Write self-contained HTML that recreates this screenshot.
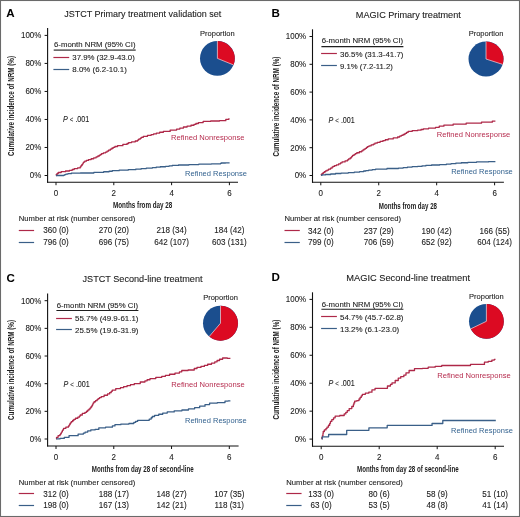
<!DOCTYPE html>
<html><head><meta charset="utf-8"><style>
html,body{margin:0;padding:0;background:#fff;}
body{width:520px;height:517px;overflow:hidden;position:relative;}
svg{position:absolute;left:0;top:0;font-family:"Liberation Sans", sans-serif;will-change:transform;}
</style></head><body>
<svg width="520" height="517" viewBox="0 0 520 517">
<rect x="0" y="0" width="520" height="517" fill="#fff"/>
<g>
<text x="6.3" y="16.6" font-size="11.6" text-anchor="start" fill="#000" font-weight="bold" font-style="normal">A</text>
<text x="64.2" y="16.7" font-size="9.8" text-anchor="start" fill="#1c1c1c" font-weight="normal" font-style="normal" textLength="157" lengthAdjust="spacingAndGlyphs" stroke="#1c1c1c" stroke-width="0.1">JSTCT Primary treatment validation set</text>
<line x1="47.6" y1="28" x2="47.6" y2="182.7" stroke="#111" stroke-width="1.1"/>
<line x1="47.1" y1="182.2" x2="238" y2="182.2" stroke="#111" stroke-width="1.1"/>
<line x1="44.6" y1="175.5" x2="47.6" y2="175.5" stroke="#111" stroke-width="1"/>
<text x="41.300000000000004" y="178.35" font-size="8.59" text-anchor="end" fill="#1c1c1c" font-weight="normal" font-style="normal" textLength="11.49" lengthAdjust="spacingAndGlyphs" stroke="#1c1c1c" stroke-width="0.1">0%</text>
<line x1="44.6" y1="147.48" x2="47.6" y2="147.48" stroke="#111" stroke-width="1"/>
<text x="41.300000000000004" y="150.32999999999998" font-size="8.59" text-anchor="end" fill="#1c1c1c" font-weight="normal" font-style="normal" textLength="15.91" lengthAdjust="spacingAndGlyphs" stroke="#1c1c1c" stroke-width="0.1">20%</text>
<line x1="44.6" y1="119.46000000000001" x2="47.6" y2="119.46000000000001" stroke="#111" stroke-width="1"/>
<text x="41.300000000000004" y="122.31" font-size="8.59" text-anchor="end" fill="#1c1c1c" font-weight="normal" font-style="normal" textLength="15.91" lengthAdjust="spacingAndGlyphs" stroke="#1c1c1c" stroke-width="0.1">40%</text>
<line x1="44.6" y1="91.44000000000001" x2="47.6" y2="91.44000000000001" stroke="#111" stroke-width="1"/>
<text x="41.300000000000004" y="94.29" font-size="8.59" text-anchor="end" fill="#1c1c1c" font-weight="normal" font-style="normal" textLength="15.91" lengthAdjust="spacingAndGlyphs" stroke="#1c1c1c" stroke-width="0.1">60%</text>
<line x1="44.6" y1="63.42" x2="47.6" y2="63.42" stroke="#111" stroke-width="1"/>
<text x="41.300000000000004" y="66.27" font-size="8.59" text-anchor="end" fill="#1c1c1c" font-weight="normal" font-style="normal" textLength="15.91" lengthAdjust="spacingAndGlyphs" stroke="#1c1c1c" stroke-width="0.1">80%</text>
<line x1="44.6" y1="35.400000000000006" x2="47.6" y2="35.400000000000006" stroke="#111" stroke-width="1"/>
<text x="41.300000000000004" y="38.25000000000001" font-size="8.59" text-anchor="end" fill="#1c1c1c" font-weight="normal" font-style="normal" textLength="20.33" lengthAdjust="spacingAndGlyphs" stroke="#1c1c1c" stroke-width="0.1">100%</text>
<line x1="56.0" y1="182.2" x2="56.0" y2="185.2" stroke="#111" stroke-width="1"/>
<text x="56.0" y="195.8" font-size="8.48" text-anchor="middle" fill="#1c1c1c" font-weight="normal" font-style="normal" textLength="4.45" lengthAdjust="spacingAndGlyphs" stroke="#1c1c1c" stroke-width="0.1">0</text>
<line x1="113.80000000000001" y1="182.2" x2="113.80000000000001" y2="185.2" stroke="#111" stroke-width="1"/>
<text x="113.80000000000001" y="195.8" font-size="8.48" text-anchor="middle" fill="#1c1c1c" font-weight="normal" font-style="normal" textLength="4.45" lengthAdjust="spacingAndGlyphs" stroke="#1c1c1c" stroke-width="0.1">2</text>
<line x1="171.60000000000002" y1="182.2" x2="171.60000000000002" y2="185.2" stroke="#111" stroke-width="1"/>
<text x="171.60000000000002" y="195.8" font-size="8.48" text-anchor="middle" fill="#1c1c1c" font-weight="normal" font-style="normal" textLength="4.45" lengthAdjust="spacingAndGlyphs" stroke="#1c1c1c" stroke-width="0.1">4</text>
<line x1="229.4" y1="182.2" x2="229.4" y2="185.2" stroke="#111" stroke-width="1"/>
<text x="229.4" y="195.8" font-size="8.48" text-anchor="middle" fill="#1c1c1c" font-weight="normal" font-style="normal" textLength="4.45" lengthAdjust="spacingAndGlyphs" stroke="#1c1c1c" stroke-width="0.1">6</text>
<text x="113" y="207.79999999999998" font-size="8.9" text-anchor="start" fill="#1c1c1c" font-weight="bold" font-style="normal" textLength="59.3" lengthAdjust="spacingAndGlyphs">Months from day 28</text>
<text x="0" y="0" font-size="9.5" font-weight="bold" text-anchor="middle" fill="#1c1c1c" textLength="100" lengthAdjust="spacingAndGlyphs" transform="translate(13.9,106.0) rotate(-90)">Cumulative incidence of NRM (%)</text>
<text x="54" y="46.6" font-size="8.1" text-anchor="start" fill="#1c1c1c" font-weight="normal" font-style="normal" textLength="81.5" lengthAdjust="spacingAndGlyphs" stroke="#1c1c1c" stroke-width="0.1">6-month NRM (95% CI)</text>
<line x1="53.7" y1="50.1" x2="135.7" y2="50.1" stroke="#6e6e6e" stroke-width="1.8"/>
<line x1="53.4" y1="57.5" x2="69.2" y2="57.5" stroke="#ae2848" stroke-width="1.2"/>
<line x1="53.4" y1="69.5" x2="69.2" y2="69.5" stroke="#3a5f88" stroke-width="1.2"/>
<text x="72.3" y="60.4" font-size="8.1" text-anchor="start" fill="#1c1c1c" font-weight="normal" font-style="normal" textLength="62.5" lengthAdjust="spacingAndGlyphs" stroke="#1c1c1c" stroke-width="0.1">37.9% (32.9-43.0)</text>
<text x="72.3" y="72.30000000000001" font-size="8.1" text-anchor="start" fill="#1c1c1c" font-weight="normal" font-style="normal" textLength="54.5" lengthAdjust="spacingAndGlyphs" stroke="#1c1c1c" stroke-width="0.1">8.0% (6.2-10.1)</text>
<text x="217.4" y="35.8" font-size="8.0" text-anchor="middle" fill="#1c1c1c" font-weight="normal" font-style="normal" textLength="34.7" lengthAdjust="spacingAndGlyphs" stroke="#1c1c1c" stroke-width="0.1">Proportion</text>
<circle cx="217.4" cy="58.4" r="17.4" fill="#1b4e8e"/>
<path d="M217.4,58.4 L217.4,41.0 A17.4,17.4 0 0 1 233.52,64.95 Z" fill="#dc0a22"/>
<line x1="217.4" y1="58.4" x2="217.4" y2="41.0" stroke="#f4d8dc" stroke-width="0.7"/>
<line x1="217.4" y1="58.4" x2="233.52" y2="64.95" stroke="#f4d8dc" stroke-width="0.7"/>
<text x="63.1" y="121.8" font-size="8.5" fill="#1c1c1c" stroke="#1c1c1c" stroke-width="0.1" textLength="26.2" lengthAdjust="spacingAndGlyphs"><tspan font-style="italic">P</tspan> <tspan font-size="7.2">&lt;</tspan> .001</text>
<polyline points="56.00,175.50 56.27,175.50 56.27,174.50 57.13,174.50 57.13,173.50 58.25,173.50 58.25,172.50 58.80,172.50 61.20,172.50 61.20,171.70 63.60,171.70 65.57,171.70 65.57,171.00 69.42,171.00 69.42,170.30 71.30,170.30 72.22,170.30 72.22,169.50 74.17,169.50 74.17,168.70 75.20,168.70 77.60,168.70 77.60,167.90 80.00,167.90 80.18,167.90 80.18,166.93 80.83,166.93 80.83,165.97 81.61,165.97 81.61,165.00 82.37,165.00 82.37,164.03 82.97,164.03 82.97,163.07 83.47,163.07 83.47,162.10 83.80,162.10 84.75,162.10 84.75,161.20 85.70,161.20 86.39,161.20 86.39,160.38 88.46,160.38 88.46,159.57 91.17,159.57 91.17,158.75 92.50,158.75 93.71,158.75 93.71,157.78 96.11,157.78 96.11,156.80 97.30,156.80 97.90,156.80 97.90,156.00 99.33,156.00 99.33,155.20 100.67,155.20 100.67,154.40 101.59,154.40 101.59,153.60 102.00,153.60 103.40,153.60 103.40,152.85 105.60,152.85 105.60,152.10 106.40,152.10 107.05,152.10 107.05,151.14 108.54,151.14 108.54,150.18 110.28,150.18 110.28,149.22 111.83,149.22 111.83,148.26 113.14,148.26 113.14,147.30 113.80,147.30 114.93,147.30 114.93,146.50 117.58,146.50 117.58,145.70 119.10,145.70 122.85,145.70 122.85,144.40 126.60,144.40 127.05,144.40 127.05,143.50 128.65,143.50 128.65,142.60 129.80,142.60 131.58,142.60 131.58,141.80 135.28,141.80 135.28,141.00 137.20,141.00 137.55,141.00 137.55,140.10 138.68,140.10 138.68,139.20 140.16,139.20 140.16,138.30 141.18,138.30 141.18,137.40 141.50,137.40 143.22,137.40 143.22,136.35 147.47,136.35 147.47,135.30 150.00,135.30 151.14,135.30 151.14,134.60 153.64,134.60 153.64,133.90 155.00,133.90 156.36,133.90 156.36,133.07 159.68,133.07 159.68,132.23 163.37,132.23 163.37,131.40 165.10,131.40 170.15,131.40 170.15,130.10 175.20,130.10 176.62,130.10 176.62,129.07 179.86,129.07 179.86,128.03 183.44,128.03 183.44,127.00 185.20,127.00 187.07,127.00 187.07,126.13 190.98,126.13 190.98,125.27 194.00,125.27 194.00,124.40 195.00,124.40 195.91,124.40 195.91,123.50 198.41,123.50 198.41,122.60 200.00,122.60 203.15,122.60 203.15,121.30 206.30,121.30 210.70,121.30 210.70,121.00 215.10,121.00 219.50,121.00 219.50,120.70 223.90,120.70 225.80,120.70 225.80,119.40 227.70,119.40 228.65,119.40 228.65,118.80 229.60,118.80" fill="none" stroke="#ae2848" stroke-width="1.3" stroke-linejoin="round"/>
<polyline points="56.00,175.50 63.60,175.50 63.88,175.50 63.88,175.03 64.77,175.03 64.77,174.57 65.94,174.57 65.94,174.10 66.50,174.10 67.95,174.10 67.95,173.65 71.30,173.65 71.30,173.20 73.20,173.20 80.45,173.20 80.45,173.00 87.70,173.00 93.85,173.00 93.85,172.30 100.00,172.30 103.69,172.30 103.69,171.77 109.08,171.77 109.08,171.23 112.29,171.23 112.29,170.70 113.80,170.70 119.13,170.70 119.13,170.20 128.18,170.20 128.18,169.70 131.90,169.70 135.73,169.70 135.73,169.15 141.08,169.15 141.08,168.60 142.60,168.60 146.30,168.60 146.30,168.10 150.00,168.10 152.38,168.10 152.38,167.65 156.18,167.65 156.18,167.20 157.60,167.20 160.27,167.20 160.27,166.77 165.54,166.77 165.54,166.33 169.12,166.33 169.12,165.90 170.10,165.90 172.21,165.90 172.21,165.45 178.51,165.45 178.51,165.00 182.70,165.00 188.87,165.00 188.87,164.55 198.82,164.55 198.82,164.10 202.60,164.10 211.40,164.10 211.40,163.80 220.20,163.80 220.58,163.80 220.58,163.40 221.18,163.40 221.18,163.00 221.40,163.00 225.50,163.00 225.50,162.80 229.60,162.80" fill="none" stroke="#3a5f88" stroke-width="1.3" stroke-linejoin="round"/>
<text x="171" y="140.1" font-size="8.1" text-anchor="start" fill="#b62c4e" font-weight="normal" font-style="normal" textLength="73.5" lengthAdjust="spacingAndGlyphs" stroke-width="0">Refined Nonresponse</text>
<text x="185" y="175.6" font-size="8.1" text-anchor="start" fill="#33628f" font-weight="normal" font-style="normal" textLength="62" lengthAdjust="spacingAndGlyphs" stroke-width="0">Refined Response</text>
<text x="18.8" y="221.2" font-size="8.0" text-anchor="start" fill="#1c1c1c" font-weight="normal" font-style="normal" textLength="116.5" lengthAdjust="spacingAndGlyphs" stroke="#1c1c1c" stroke-width="0.1">Number at risk (number censored)</text>
<line x1="18.8" y1="230.5" x2="34.1" y2="230.5" stroke="#ae2848" stroke-width="1.2"/>
<line x1="18.8" y1="242.5" x2="34.1" y2="242.5" stroke="#3a5f88" stroke-width="1.2"/>
<text x="56.0" y="233.4" font-size="8.67" text-anchor="middle" fill="#1c1c1c" font-weight="normal" font-style="normal" textLength="25.66" lengthAdjust="spacingAndGlyphs" stroke="#1c1c1c" stroke-width="0.1">360 (0)</text>
<text x="56.0" y="245.0" font-size="8.67" text-anchor="middle" fill="#1c1c1c" font-weight="normal" font-style="normal" textLength="25.66" lengthAdjust="spacingAndGlyphs" stroke="#1c1c1c" stroke-width="0.1">796 (0)</text>
<text x="113.80000000000001" y="233.4" font-size="8.67" text-anchor="middle" fill="#1c1c1c" font-weight="normal" font-style="normal" textLength="30.17" lengthAdjust="spacingAndGlyphs" stroke="#1c1c1c" stroke-width="0.1">270 (20)</text>
<text x="113.80000000000001" y="245.0" font-size="8.67" text-anchor="middle" fill="#1c1c1c" font-weight="normal" font-style="normal" textLength="30.17" lengthAdjust="spacingAndGlyphs" stroke="#1c1c1c" stroke-width="0.1">696 (75)</text>
<text x="171.60000000000002" y="233.4" font-size="8.67" text-anchor="middle" fill="#1c1c1c" font-weight="normal" font-style="normal" textLength="30.17" lengthAdjust="spacingAndGlyphs" stroke="#1c1c1c" stroke-width="0.1">218 (34)</text>
<text x="171.60000000000002" y="245.0" font-size="8.67" text-anchor="middle" fill="#1c1c1c" font-weight="normal" font-style="normal" textLength="34.67" lengthAdjust="spacingAndGlyphs" stroke="#1c1c1c" stroke-width="0.1">642 (107)</text>
<text x="229.4" y="233.4" font-size="8.67" text-anchor="middle" fill="#1c1c1c" font-weight="normal" font-style="normal" textLength="30.17" lengthAdjust="spacingAndGlyphs" stroke="#1c1c1c" stroke-width="0.1">184 (42)</text>
<text x="229.4" y="245.0" font-size="8.67" text-anchor="middle" fill="#1c1c1c" font-weight="normal" font-style="normal" textLength="34.67" lengthAdjust="spacingAndGlyphs" stroke="#1c1c1c" stroke-width="0.1">603 (131)</text>
<text x="271.6" y="17.0" font-size="11.6" text-anchor="start" fill="#000" font-weight="bold" font-style="normal">B</text>
<text x="355.8" y="17.8" font-size="9.8" text-anchor="start" fill="#1c1c1c" font-weight="normal" font-style="normal" textLength="105" lengthAdjust="spacingAndGlyphs" stroke="#1c1c1c" stroke-width="0.1">MAGIC Primary treatment</text>
<line x1="312.5" y1="29.3" x2="312.5" y2="182.8" stroke="#111" stroke-width="1.1"/>
<line x1="312.0" y1="182.3" x2="503.9" y2="182.3" stroke="#111" stroke-width="1.1"/>
<line x1="309.5" y1="175.5" x2="312.5" y2="175.5" stroke="#111" stroke-width="1"/>
<text x="306.2" y="178.35" font-size="8.59" text-anchor="end" fill="#1c1c1c" font-weight="normal" font-style="normal" textLength="11.49" lengthAdjust="spacingAndGlyphs" stroke="#1c1c1c" stroke-width="0.1">0%</text>
<line x1="309.5" y1="147.7" x2="312.5" y2="147.7" stroke="#111" stroke-width="1"/>
<text x="306.2" y="150.54999999999998" font-size="8.59" text-anchor="end" fill="#1c1c1c" font-weight="normal" font-style="normal" textLength="15.91" lengthAdjust="spacingAndGlyphs" stroke="#1c1c1c" stroke-width="0.1">20%</text>
<line x1="309.5" y1="119.9" x2="312.5" y2="119.9" stroke="#111" stroke-width="1"/>
<text x="306.2" y="122.75" font-size="8.59" text-anchor="end" fill="#1c1c1c" font-weight="normal" font-style="normal" textLength="15.91" lengthAdjust="spacingAndGlyphs" stroke="#1c1c1c" stroke-width="0.1">40%</text>
<line x1="309.5" y1="92.1" x2="312.5" y2="92.1" stroke="#111" stroke-width="1"/>
<text x="306.2" y="94.94999999999999" font-size="8.59" text-anchor="end" fill="#1c1c1c" font-weight="normal" font-style="normal" textLength="15.91" lengthAdjust="spacingAndGlyphs" stroke="#1c1c1c" stroke-width="0.1">60%</text>
<line x1="309.5" y1="64.3" x2="312.5" y2="64.3" stroke="#111" stroke-width="1"/>
<text x="306.2" y="67.14999999999999" font-size="8.59" text-anchor="end" fill="#1c1c1c" font-weight="normal" font-style="normal" textLength="15.91" lengthAdjust="spacingAndGlyphs" stroke="#1c1c1c" stroke-width="0.1">80%</text>
<line x1="309.5" y1="36.5" x2="312.5" y2="36.5" stroke="#111" stroke-width="1"/>
<text x="306.2" y="39.35" font-size="8.59" text-anchor="end" fill="#1c1c1c" font-weight="normal" font-style="normal" textLength="20.33" lengthAdjust="spacingAndGlyphs" stroke="#1c1c1c" stroke-width="0.1">100%</text>
<line x1="320.8" y1="182.3" x2="320.8" y2="185.3" stroke="#111" stroke-width="1"/>
<text x="320.8" y="195.7" font-size="8.48" text-anchor="middle" fill="#1c1c1c" font-weight="normal" font-style="normal" textLength="4.45" lengthAdjust="spacingAndGlyphs" stroke="#1c1c1c" stroke-width="0.1">0</text>
<line x1="378.73333333333335" y1="182.3" x2="378.73333333333335" y2="185.3" stroke="#111" stroke-width="1"/>
<text x="378.73333333333335" y="195.7" font-size="8.48" text-anchor="middle" fill="#1c1c1c" font-weight="normal" font-style="normal" textLength="4.45" lengthAdjust="spacingAndGlyphs" stroke="#1c1c1c" stroke-width="0.1">2</text>
<line x1="436.6666666666667" y1="182.3" x2="436.6666666666667" y2="185.3" stroke="#111" stroke-width="1"/>
<text x="436.6666666666667" y="195.7" font-size="8.48" text-anchor="middle" fill="#1c1c1c" font-weight="normal" font-style="normal" textLength="4.45" lengthAdjust="spacingAndGlyphs" stroke="#1c1c1c" stroke-width="0.1">4</text>
<line x1="494.6" y1="182.3" x2="494.6" y2="185.3" stroke="#111" stroke-width="1"/>
<text x="494.6" y="195.7" font-size="8.48" text-anchor="middle" fill="#1c1c1c" font-weight="normal" font-style="normal" textLength="4.45" lengthAdjust="spacingAndGlyphs" stroke="#1c1c1c" stroke-width="0.1">6</text>
<text x="378.75" y="208.5" font-size="8.9" text-anchor="start" fill="#1c1c1c" font-weight="bold" font-style="normal" textLength="58.3" lengthAdjust="spacingAndGlyphs">Months from day 28</text>
<text x="0" y="0" font-size="9.5" font-weight="bold" text-anchor="middle" fill="#1c1c1c" textLength="100" lengthAdjust="spacingAndGlyphs" transform="translate(279.3,106.55) rotate(-90)">Cumulative incidence of NRM (%)</text>
<text x="321.7" y="43.3" font-size="8.1" text-anchor="start" fill="#1c1c1c" font-weight="normal" font-style="normal" textLength="81.5" lengthAdjust="spacingAndGlyphs" stroke="#1c1c1c" stroke-width="0.1">6-month NRM (95% CI)</text>
<line x1="321.4" y1="46.6" x2="403.4" y2="46.6" stroke="#1e1e1e" stroke-width="1.1"/>
<line x1="321.09999999999997" y1="53.5" x2="336.9" y2="53.5" stroke="#ae2848" stroke-width="1.2"/>
<line x1="321.09999999999997" y1="65.5" x2="336.9" y2="65.5" stroke="#3a5f88" stroke-width="1.2"/>
<text x="340" y="56.8" font-size="8.1" text-anchor="start" fill="#1c1c1c" font-weight="normal" font-style="normal" textLength="63.5" lengthAdjust="spacingAndGlyphs" stroke="#1c1c1c" stroke-width="0.1">36.5% (31.3-41.7)</text>
<text x="340" y="68.5" font-size="8.1" text-anchor="start" fill="#1c1c1c" font-weight="normal" font-style="normal" textLength="52.9" lengthAdjust="spacingAndGlyphs" stroke="#1c1c1c" stroke-width="0.1">9.1% (7.2-11.2)</text>
<text x="486" y="36.3" font-size="8.0" text-anchor="middle" fill="#1c1c1c" font-weight="normal" font-style="normal" textLength="34.7" lengthAdjust="spacingAndGlyphs" stroke="#1c1c1c" stroke-width="0.1">Proportion</text>
<circle cx="486" cy="59" r="17.5" fill="#1b4e8e"/>
<path d="M486,59 L486,41.5 A17.5,17.5 0 0 1 502.65,64.38 Z" fill="#dc0a22"/>
<line x1="486" y1="59" x2="486" y2="41.5" stroke="#f4d8dc" stroke-width="0.7"/>
<line x1="486" y1="59" x2="502.65" y2="64.38" stroke="#f4d8dc" stroke-width="0.7"/>
<text x="328.6" y="122.8" font-size="8.5" fill="#1c1c1c" stroke="#1c1c1c" stroke-width="0.1" textLength="26.2" lengthAdjust="spacingAndGlyphs"><tspan font-style="italic">P</tspan> <tspan font-size="7.2">&lt;</tspan> .001</text>
<polyline points="321.00,175.30 321.27,175.30 321.27,174.40 322.13,174.40 322.13,173.50 323.25,173.50 323.25,172.60 323.80,172.60 324.35,172.60 324.35,171.77 325.61,171.77 325.61,170.93 327.01,170.93 327.01,170.10 327.70,170.10 328.61,170.10 328.61,169.13 330.54,169.13 330.54,168.17 332.03,168.17 332.03,167.20 332.50,167.20 332.95,167.20 332.95,166.40 334.55,166.40 334.55,165.60 336.50,165.60 336.50,164.80 337.30,164.80 338.65,164.80 338.65,163.83 340.54,163.83 340.54,162.87 342.09,162.87 342.09,161.90 343.10,161.90 345.05,161.90 345.05,160.90 347.00,160.90 347.40,160.90 347.40,159.93 348.58,159.93 348.58,158.97 350.14,158.97 350.14,158.00 350.90,158.00 351.19,158.00 351.19,157.14 351.76,157.14 351.76,156.28 352.61,156.28 352.61,155.42 353.96,155.42 353.96,154.56 355.22,154.56 355.22,153.70 355.70,153.70 356.82,153.70 356.82,152.73 359.39,152.73 359.39,151.77 361.67,151.77 361.67,150.80 362.50,150.80 362.98,150.80 362.98,149.96 364.09,149.96 364.09,149.12 365.38,149.12 365.38,148.28 366.53,148.28 366.53,147.44 367.51,147.44 367.51,146.60 368.00,146.60 369.00,146.60 369.00,145.80 370.00,145.80 371.17,145.80 371.17,144.92 373.31,144.92 373.31,144.04 374.91,144.04 374.91,143.16 377.18,143.16 377.18,142.28 380.11,142.28 380.11,141.40 381.40,141.40 382.91,141.40 382.91,140.57 385.34,140.57 385.34,139.73 388.22,139.73 388.22,138.90 390.20,138.90 393.22,138.90 393.22,137.95 397.62,137.95 397.62,137.00 399.00,137.00 399.64,137.00 399.64,136.17 401.21,136.17 401.21,135.33 403.07,135.33 403.07,134.50 404.00,134.50 404.97,134.50 404.97,133.47 406.57,133.47 406.57,132.43 408.10,132.43 408.10,131.40 409.00,131.40 412.15,131.40 412.15,130.70 415.30,130.70 417.65,130.70 417.65,130.20 420.00,130.20 421.01,130.20 421.01,129.50 423.31,129.50 423.31,128.80 424.60,128.80 428.58,128.80 428.58,128.05 435.53,128.05 435.53,127.30 438.50,127.30 439.25,127.30 439.25,126.20 440.00,126.20 443.87,126.20 443.87,125.20 453.12,125.20 453.12,124.20 458.50,124.20 466.15,124.20 466.15,123.20 473.80,123.20 481.50,123.20 481.50,122.20 489.20,122.20 492.30,122.20 492.30,121.20 495.40,121.20" fill="none" stroke="#ae2848" stroke-width="1.3" stroke-linejoin="round"/>
<polyline points="321.00,175.30 322.07,175.30 322.07,174.90 325.42,174.90 325.42,174.50 327.70,174.50 330.70,174.50 330.70,174.00 335.50,174.00 335.50,173.50 337.30,173.50 341.01,173.50 341.01,173.05 348.26,173.05 348.26,172.60 351.80,172.60 354.30,172.60 354.30,172.07 359.61,172.07 359.61,171.53 363.71,171.53 363.71,171.00 365.00,171.00 365.82,171.00 365.82,170.53 368.71,170.53 368.71,170.05 372.23,170.05 372.23,169.57 375.64,169.57 375.64,169.10 377.60,169.10 387.00,169.10 387.00,168.50 396.40,168.50 398.46,168.50 398.46,168.03 403.18,168.03 403.18,167.55 407.42,167.55 407.42,167.07 412.15,167.07 412.15,166.60 415.30,166.60 417.65,166.60 417.65,166.40 420.00,166.40 421.95,166.40 421.95,165.93 425.82,165.93 425.82,165.47 431.58,165.47 431.58,165.00 435.40,165.00 439.60,165.00 439.60,164.55 446.37,164.55 446.37,164.10 451.03,164.10 451.03,163.65 455.81,163.65 455.81,163.20 458.50,163.20 461.28,163.20 461.28,162.77 467.85,162.77 467.85,162.33 476.57,162.33 476.57,161.90 481.50,161.90 488.45,161.90 488.45,161.60 495.40,161.60" fill="none" stroke="#3a5f88" stroke-width="1.3" stroke-linejoin="round"/>
<text x="436.7" y="137.1" font-size="8.1" text-anchor="start" fill="#b62c4e" font-weight="normal" font-style="normal" textLength="73.5" lengthAdjust="spacingAndGlyphs" stroke-width="0">Refined Nonresponse</text>
<text x="451.2" y="173.9" font-size="8.1" text-anchor="start" fill="#33628f" font-weight="normal" font-style="normal" textLength="61.6" lengthAdjust="spacingAndGlyphs" stroke-width="0">Refined Response</text>
<text x="284.5" y="221.3" font-size="8.0" text-anchor="start" fill="#1c1c1c" font-weight="normal" font-style="normal" textLength="116.5" lengthAdjust="spacingAndGlyphs" stroke="#1c1c1c" stroke-width="0.1">Number at risk (number censored)</text>
<line x1="284.5" y1="230.5" x2="299.8" y2="230.5" stroke="#ae2848" stroke-width="1.2"/>
<line x1="284.5" y1="242.5" x2="299.8" y2="242.5" stroke="#3a5f88" stroke-width="1.2"/>
<text x="320.8" y="233.5" font-size="8.67" text-anchor="middle" fill="#1c1c1c" font-weight="normal" font-style="normal" textLength="25.66" lengthAdjust="spacingAndGlyphs" stroke="#1c1c1c" stroke-width="0.1">342 (0)</text>
<text x="320.8" y="245.3" font-size="8.67" text-anchor="middle" fill="#1c1c1c" font-weight="normal" font-style="normal" textLength="25.66" lengthAdjust="spacingAndGlyphs" stroke="#1c1c1c" stroke-width="0.1">799 (0)</text>
<text x="378.73333333333335" y="233.5" font-size="8.67" text-anchor="middle" fill="#1c1c1c" font-weight="normal" font-style="normal" textLength="30.17" lengthAdjust="spacingAndGlyphs" stroke="#1c1c1c" stroke-width="0.1">237 (29)</text>
<text x="378.73333333333335" y="245.3" font-size="8.67" text-anchor="middle" fill="#1c1c1c" font-weight="normal" font-style="normal" textLength="30.17" lengthAdjust="spacingAndGlyphs" stroke="#1c1c1c" stroke-width="0.1">706 (59)</text>
<text x="436.6666666666667" y="233.5" font-size="8.67" text-anchor="middle" fill="#1c1c1c" font-weight="normal" font-style="normal" textLength="30.17" lengthAdjust="spacingAndGlyphs" stroke="#1c1c1c" stroke-width="0.1">190 (42)</text>
<text x="436.6666666666667" y="245.3" font-size="8.67" text-anchor="middle" fill="#1c1c1c" font-weight="normal" font-style="normal" textLength="30.17" lengthAdjust="spacingAndGlyphs" stroke="#1c1c1c" stroke-width="0.1">652 (92)</text>
<text x="494.6" y="233.5" font-size="8.67" text-anchor="middle" fill="#1c1c1c" font-weight="normal" font-style="normal" textLength="30.17" lengthAdjust="spacingAndGlyphs" stroke="#1c1c1c" stroke-width="0.1">166 (55)</text>
<text x="494.6" y="245.3" font-size="8.67" text-anchor="middle" fill="#1c1c1c" font-weight="normal" font-style="normal" textLength="34.67" lengthAdjust="spacingAndGlyphs" stroke="#1c1c1c" stroke-width="0.1">604 (124)</text>
<text x="6.5" y="281.8" font-size="11.6" text-anchor="start" fill="#000" font-weight="bold" font-style="normal">C</text>
<text x="82.5" y="282" font-size="9.8" text-anchor="start" fill="#1c1c1c" font-weight="normal" font-style="normal" textLength="120" lengthAdjust="spacingAndGlyphs" stroke="#1c1c1c" stroke-width="0.1">JSTCT Second-line treatment</text>
<line x1="47.6" y1="293.6" x2="47.6" y2="446.5" stroke="#111" stroke-width="1.1"/>
<line x1="47.1" y1="446" x2="238.6" y2="446" stroke="#111" stroke-width="1.1"/>
<line x1="44.6" y1="439.0" x2="47.6" y2="439.0" stroke="#111" stroke-width="1"/>
<text x="41.300000000000004" y="441.85" font-size="8.59" text-anchor="end" fill="#1c1c1c" font-weight="normal" font-style="normal" textLength="11.49" lengthAdjust="spacingAndGlyphs" stroke="#1c1c1c" stroke-width="0.1">0%</text>
<line x1="44.6" y1="411.34" x2="47.6" y2="411.34" stroke="#111" stroke-width="1"/>
<text x="41.300000000000004" y="414.19" font-size="8.59" text-anchor="end" fill="#1c1c1c" font-weight="normal" font-style="normal" textLength="15.91" lengthAdjust="spacingAndGlyphs" stroke="#1c1c1c" stroke-width="0.1">20%</text>
<line x1="44.6" y1="383.68" x2="47.6" y2="383.68" stroke="#111" stroke-width="1"/>
<text x="41.300000000000004" y="386.53000000000003" font-size="8.59" text-anchor="end" fill="#1c1c1c" font-weight="normal" font-style="normal" textLength="15.91" lengthAdjust="spacingAndGlyphs" stroke="#1c1c1c" stroke-width="0.1">40%</text>
<line x1="44.6" y1="356.02" x2="47.6" y2="356.02" stroke="#111" stroke-width="1"/>
<text x="41.300000000000004" y="358.87" font-size="8.59" text-anchor="end" fill="#1c1c1c" font-weight="normal" font-style="normal" textLength="15.91" lengthAdjust="spacingAndGlyphs" stroke="#1c1c1c" stroke-width="0.1">60%</text>
<line x1="44.6" y1="328.36" x2="47.6" y2="328.36" stroke="#111" stroke-width="1"/>
<text x="41.300000000000004" y="331.21000000000004" font-size="8.59" text-anchor="end" fill="#1c1c1c" font-weight="normal" font-style="normal" textLength="15.91" lengthAdjust="spacingAndGlyphs" stroke="#1c1c1c" stroke-width="0.1">80%</text>
<line x1="44.6" y1="300.7" x2="47.6" y2="300.7" stroke="#111" stroke-width="1"/>
<text x="41.300000000000004" y="303.55" font-size="8.59" text-anchor="end" fill="#1c1c1c" font-weight="normal" font-style="normal" textLength="20.33" lengthAdjust="spacingAndGlyphs" stroke="#1c1c1c" stroke-width="0.1">100%</text>
<line x1="56.0" y1="446" x2="56.0" y2="449" stroke="#111" stroke-width="1"/>
<text x="56.0" y="459.5" font-size="8.48" text-anchor="middle" fill="#1c1c1c" font-weight="normal" font-style="normal" textLength="4.45" lengthAdjust="spacingAndGlyphs" stroke="#1c1c1c" stroke-width="0.1">0</text>
<line x1="113.76666666666668" y1="446" x2="113.76666666666668" y2="449" stroke="#111" stroke-width="1"/>
<text x="113.76666666666668" y="459.5" font-size="8.48" text-anchor="middle" fill="#1c1c1c" font-weight="normal" font-style="normal" textLength="4.45" lengthAdjust="spacingAndGlyphs" stroke="#1c1c1c" stroke-width="0.1">2</text>
<line x1="171.53333333333336" y1="446" x2="171.53333333333336" y2="449" stroke="#111" stroke-width="1"/>
<text x="171.53333333333336" y="459.5" font-size="8.48" text-anchor="middle" fill="#1c1c1c" font-weight="normal" font-style="normal" textLength="4.45" lengthAdjust="spacingAndGlyphs" stroke="#1c1c1c" stroke-width="0.1">4</text>
<line x1="229.30000000000004" y1="446" x2="229.30000000000004" y2="449" stroke="#111" stroke-width="1"/>
<text x="229.30000000000004" y="459.5" font-size="8.48" text-anchor="middle" fill="#1c1c1c" font-weight="normal" font-style="normal" textLength="4.45" lengthAdjust="spacingAndGlyphs" stroke="#1c1c1c" stroke-width="0.1">6</text>
<text x="91.75" y="472.1" font-size="8.9" text-anchor="start" fill="#1c1c1c" font-weight="bold" font-style="normal" textLength="102" lengthAdjust="spacingAndGlyphs">Months from day 28 of second-line</text>
<text x="0" y="0" font-size="9.5" font-weight="bold" text-anchor="middle" fill="#1c1c1c" textLength="100" lengthAdjust="spacingAndGlyphs" transform="translate(13.9,369.95000000000005) rotate(-90)">Cumulative incidence of NRM (%)</text>
<text x="56.7" y="307.5" font-size="8.1" text-anchor="start" fill="#1c1c1c" font-weight="normal" font-style="normal" textLength="81.5" lengthAdjust="spacingAndGlyphs" stroke="#1c1c1c" stroke-width="0.1">6-month NRM (95% CI)</text>
<line x1="56.400000000000006" y1="310.5" x2="138.4" y2="310.5" stroke="#1e1e1e" stroke-width="1.1"/>
<line x1="56.1" y1="318.5" x2="71.9" y2="318.5" stroke="#ae2848" stroke-width="1.2"/>
<line x1="56.1" y1="329.5" x2="71.9" y2="329.5" stroke="#3a5f88" stroke-width="1.2"/>
<text x="75" y="320.95" font-size="8.1" text-anchor="start" fill="#1c1c1c" font-weight="normal" font-style="normal" textLength="63.5" lengthAdjust="spacingAndGlyphs" stroke="#1c1c1c" stroke-width="0.1">55.7% (49.9-61.1)</text>
<text x="75" y="332.59999999999997" font-size="8.1" text-anchor="start" fill="#1c1c1c" font-weight="normal" font-style="normal" textLength="63.5" lengthAdjust="spacingAndGlyphs" stroke="#1c1c1c" stroke-width="0.1">25.5% (19.6-31.9)</text>
<text x="220.5" y="300" font-size="8.0" text-anchor="middle" fill="#1c1c1c" font-weight="normal" font-style="normal" textLength="34.7" lengthAdjust="spacingAndGlyphs" stroke="#1c1c1c" stroke-width="0.1">Proportion</text>
<circle cx="220.5" cy="323.2" r="17.5" fill="#1b4e8e"/>
<path d="M220.5,323.2 L220.5,305.7 A17.5,17.5 0 1 1 209.20,336.56 Z" fill="#dc0a22"/>
<line x1="220.5" y1="323.2" x2="220.5" y2="305.7" stroke="#f4d8dc" stroke-width="0.7"/>
<line x1="220.5" y1="323.2" x2="209.20" y2="336.56" stroke="#f4d8dc" stroke-width="0.7"/>
<text x="63.6" y="386.6" font-size="8.5" fill="#1c1c1c" stroke="#1c1c1c" stroke-width="0.1" textLength="26.2" lengthAdjust="spacingAndGlyphs"><tspan font-style="italic">P</tspan> <tspan font-size="7.2">&lt;</tspan> .001</text>
<polyline points="56.30,438.90 56.55,438.90 56.55,437.30 56.80,437.30 58.10,437.30 58.10,435.70 59.40,435.70 59.86,435.70 59.86,434.67 60.60,434.67 60.60,433.63 61.24,433.63 61.24,432.60 61.60,432.60 61.85,432.60 61.85,431.53 62.40,431.53 62.40,430.45 63.05,430.45 63.05,429.38 63.54,429.38 63.54,428.30 63.70,428.30 65.85,428.30 65.85,427.20 68.00,427.20 68.40,427.20 68.40,426.13 69.07,426.13 69.07,425.07 69.72,425.07 69.72,424.00 70.10,424.00 70.41,424.00 70.41,422.82 71.30,422.82 71.30,421.65 72.64,421.65 72.64,420.48 73.85,420.48 73.85,419.30 74.30,419.30 75.49,419.30 75.49,418.23 77.82,418.23 77.82,417.15 79.40,417.15 79.40,416.07 80.27,416.07 80.27,415.00 80.70,415.00 82.30,415.00 82.30,413.40 83.90,413.40 84.94,413.40 84.94,412.33 86.61,412.33 86.61,411.27 87.76,411.27 87.76,410.20 88.94,410.20 88.94,409.13 89.98,409.13 89.98,408.07 90.88,408.07 90.88,407.00 91.40,407.00 91.69,407.00 91.69,405.95 92.29,405.95 92.29,404.90 92.82,404.90 92.82,403.85 93.27,403.85 93.27,402.80 93.50,402.80 94.11,402.80 94.11,401.73 95.54,401.73 95.54,400.67 97.03,400.67 97.03,399.60 97.70,399.60 98.08,399.60 98.08,398.60 99.46,398.60 99.46,397.60 101.22,397.60 101.22,396.60 102.00,396.60 104.12,396.60 104.12,395.25 107.52,395.25 107.52,393.90 108.80,393.90 109.62,393.90 109.62,392.63 111.18,392.63 111.18,391.37 112.26,391.37 112.26,390.10 112.60,390.10 115.75,390.10 115.75,388.60 118.90,388.60 120.48,388.60 120.48,387.63 123.62,387.63 123.62,386.67 127.04,386.67 127.04,385.70 128.90,385.70 130.46,385.70 130.46,384.65 134.26,384.65 134.26,383.60 136.50,383.60 140.25,383.60 140.25,382.00 144.00,382.00 144.93,382.00 144.93,380.87 147.13,380.87 147.13,379.73 150.00,379.73 150.00,378.60 151.60,378.60 155.80,378.60 155.80,377.30 160.00,377.30 161.75,377.30 161.75,376.35 165.40,376.35 165.40,375.40 167.30,375.40 169.56,375.40 169.56,374.25 174.96,374.25 174.96,373.10 178.10,373.10 179.45,373.10 179.45,371.80 181.75,371.80 181.75,370.50 182.70,370.50 188.10,370.50 188.10,370.00 193.50,370.00 194.25,370.00 194.25,368.50 195.00,368.50 197.00,368.50 197.00,367.47 200.95,367.47 200.95,366.43 204.35,366.43 204.35,365.40 205.80,365.40 207.66,365.40 207.66,364.25 211.51,364.25 211.51,363.10 213.50,363.10 214.78,363.10 214.78,361.80 217.08,361.80 217.08,360.50 218.10,360.50 219.55,360.50 219.55,359.25 222.60,359.25 222.60,358.00 224.20,358.00 227.30,358.00 227.30,358.30 230.40,358.30" fill="none" stroke="#ae2848" stroke-width="1.3" stroke-linejoin="round"/>
<polyline points="56.30,438.90 60.00,438.90 60.00,438.40 63.70,438.40 64.25,438.40 64.25,437.30 64.80,437.30 69.05,437.30 69.05,435.70 73.30,435.70 78.10,435.70 78.10,434.10 82.90,434.10 83.40,434.10 83.40,433.10 83.90,433.10 85.09,433.10 85.09,432.03 87.72,432.03 87.72,430.97 90.78,430.97 90.78,429.90 92.40,429.90 95.05,429.90 95.05,429.40 97.70,429.40 98.80,429.40 98.80,427.80 99.90,427.80 105.60,427.80 105.60,427.20 111.30,427.20 112.38,427.20 112.38,425.95 114.93,425.95 114.93,424.70 116.40,424.70 120.80,424.70 120.80,424.10 125.20,424.10 128.95,424.10 128.95,423.50 132.70,423.50 133.83,423.50 133.83,422.43 135.64,422.43 135.64,421.37 137.66,421.37 137.66,420.30 139.00,420.30 147.80,420.30 149.23,420.30 149.23,419.03 151.19,419.03 151.19,417.77 152.27,417.77 152.27,416.50 152.80,416.50 154.57,416.50 154.57,415.37 158.77,415.37 158.77,414.23 162.71,414.23 162.71,413.10 164.20,413.10 167.24,413.10 167.24,411.95 174.19,411.95 174.19,410.80 178.10,410.80 181.95,410.80 181.95,410.00 185.80,410.00 188.47,410.00 188.47,408.85 194.62,408.85 194.62,407.70 198.10,407.70 199.65,407.70 199.65,406.20 201.20,406.20 205.00,406.20 205.00,404.60 208.80,404.60 209.60,404.60 209.60,403.10 210.40,403.10 217.30,403.10 217.30,402.60 224.20,402.60 225.00,402.60 225.00,401.10 225.80,401.10 228.10,401.10 228.10,400.80 230.40,400.80" fill="none" stroke="#3a5f88" stroke-width="1.3" stroke-linejoin="round"/>
<text x="171.3" y="386.8" font-size="8.1" text-anchor="start" fill="#b62c4e" font-weight="normal" font-style="normal" textLength="73.4" lengthAdjust="spacingAndGlyphs" stroke-width="0">Refined Nonresponse</text>
<text x="185" y="422.8" font-size="8.1" text-anchor="start" fill="#33628f" font-weight="normal" font-style="normal" textLength="61.8" lengthAdjust="spacingAndGlyphs" stroke-width="0">Refined Response</text>
<text x="18.75" y="485" font-size="8.0" text-anchor="start" fill="#1c1c1c" font-weight="normal" font-style="normal" textLength="116.5" lengthAdjust="spacingAndGlyphs" stroke="#1c1c1c" stroke-width="0.1">Number at risk (number censored)</text>
<line x1="18.75" y1="493.5" x2="34.05" y2="493.5" stroke="#ae2848" stroke-width="1.2"/>
<line x1="18.75" y1="505.5" x2="34.05" y2="505.5" stroke="#3a5f88" stroke-width="1.2"/>
<text x="56.0" y="496.7" font-size="8.67" text-anchor="middle" fill="#1c1c1c" font-weight="normal" font-style="normal" textLength="25.66" lengthAdjust="spacingAndGlyphs" stroke="#1c1c1c" stroke-width="0.1">312 (0)</text>
<text x="56.0" y="508.4" font-size="8.67" text-anchor="middle" fill="#1c1c1c" font-weight="normal" font-style="normal" textLength="25.66" lengthAdjust="spacingAndGlyphs" stroke="#1c1c1c" stroke-width="0.1">198 (0)</text>
<text x="113.76666666666668" y="496.7" font-size="8.67" text-anchor="middle" fill="#1c1c1c" font-weight="normal" font-style="normal" textLength="30.17" lengthAdjust="spacingAndGlyphs" stroke="#1c1c1c" stroke-width="0.1">188 (17)</text>
<text x="113.76666666666668" y="508.4" font-size="8.67" text-anchor="middle" fill="#1c1c1c" font-weight="normal" font-style="normal" textLength="30.17" lengthAdjust="spacingAndGlyphs" stroke="#1c1c1c" stroke-width="0.1">167 (13)</text>
<text x="171.53333333333336" y="496.7" font-size="8.67" text-anchor="middle" fill="#1c1c1c" font-weight="normal" font-style="normal" textLength="30.17" lengthAdjust="spacingAndGlyphs" stroke="#1c1c1c" stroke-width="0.1">148 (27)</text>
<text x="171.53333333333336" y="508.4" font-size="8.67" text-anchor="middle" fill="#1c1c1c" font-weight="normal" font-style="normal" textLength="30.17" lengthAdjust="spacingAndGlyphs" stroke="#1c1c1c" stroke-width="0.1">142 (21)</text>
<text x="229.30000000000004" y="496.7" font-size="8.67" text-anchor="middle" fill="#1c1c1c" font-weight="normal" font-style="normal" textLength="30.17" lengthAdjust="spacingAndGlyphs" stroke="#1c1c1c" stroke-width="0.1">107 (35)</text>
<text x="229.30000000000004" y="508.4" font-size="8.67" text-anchor="middle" fill="#1c1c1c" font-weight="normal" font-style="normal" textLength="29.57" lengthAdjust="spacingAndGlyphs" stroke="#1c1c1c" stroke-width="0.1">118 (31)</text>
<text x="271.6" y="280.6" font-size="11.6" text-anchor="start" fill="#000" font-weight="bold" font-style="normal">D</text>
<text x="346.25" y="280.8" font-size="9.8" text-anchor="start" fill="#1c1c1c" font-weight="normal" font-style="normal" textLength="123.75" lengthAdjust="spacingAndGlyphs" stroke="#1c1c1c" stroke-width="0.1">MAGIC Second-line treatment</text>
<line x1="312.5" y1="292.3" x2="312.5" y2="446.7" stroke="#111" stroke-width="1.1"/>
<line x1="312.0" y1="446.2" x2="504" y2="446.2" stroke="#111" stroke-width="1.1"/>
<line x1="309.5" y1="439.1" x2="312.5" y2="439.1" stroke="#111" stroke-width="1"/>
<text x="306.2" y="441.95000000000005" font-size="8.59" text-anchor="end" fill="#1c1c1c" font-weight="normal" font-style="normal" textLength="11.49" lengthAdjust="spacingAndGlyphs" stroke="#1c1c1c" stroke-width="0.1">0%</text>
<line x1="309.5" y1="411.16" x2="312.5" y2="411.16" stroke="#111" stroke-width="1"/>
<text x="306.2" y="414.01000000000005" font-size="8.59" text-anchor="end" fill="#1c1c1c" font-weight="normal" font-style="normal" textLength="15.91" lengthAdjust="spacingAndGlyphs" stroke="#1c1c1c" stroke-width="0.1">20%</text>
<line x1="309.5" y1="383.22" x2="312.5" y2="383.22" stroke="#111" stroke-width="1"/>
<text x="306.2" y="386.07000000000005" font-size="8.59" text-anchor="end" fill="#1c1c1c" font-weight="normal" font-style="normal" textLength="15.91" lengthAdjust="spacingAndGlyphs" stroke="#1c1c1c" stroke-width="0.1">40%</text>
<line x1="309.5" y1="355.28" x2="312.5" y2="355.28" stroke="#111" stroke-width="1"/>
<text x="306.2" y="358.13" font-size="8.59" text-anchor="end" fill="#1c1c1c" font-weight="normal" font-style="normal" textLength="15.91" lengthAdjust="spacingAndGlyphs" stroke="#1c1c1c" stroke-width="0.1">60%</text>
<line x1="309.5" y1="327.34" x2="312.5" y2="327.34" stroke="#111" stroke-width="1"/>
<text x="306.2" y="330.19" font-size="8.59" text-anchor="end" fill="#1c1c1c" font-weight="normal" font-style="normal" textLength="15.91" lengthAdjust="spacingAndGlyphs" stroke="#1c1c1c" stroke-width="0.1">80%</text>
<line x1="309.5" y1="299.4" x2="312.5" y2="299.4" stroke="#111" stroke-width="1"/>
<text x="306.2" y="302.25" font-size="8.59" text-anchor="end" fill="#1c1c1c" font-weight="normal" font-style="normal" textLength="20.33" lengthAdjust="spacingAndGlyphs" stroke="#1c1c1c" stroke-width="0.1">100%</text>
<line x1="321.2" y1="446.2" x2="321.2" y2="449.2" stroke="#111" stroke-width="1"/>
<text x="321.2" y="459.6" font-size="8.48" text-anchor="middle" fill="#1c1c1c" font-weight="normal" font-style="normal" textLength="4.45" lengthAdjust="spacingAndGlyphs" stroke="#1c1c1c" stroke-width="0.1">0</text>
<line x1="379.2" y1="446.2" x2="379.2" y2="449.2" stroke="#111" stroke-width="1"/>
<text x="379.2" y="459.6" font-size="8.48" text-anchor="middle" fill="#1c1c1c" font-weight="normal" font-style="normal" textLength="4.45" lengthAdjust="spacingAndGlyphs" stroke="#1c1c1c" stroke-width="0.1">2</text>
<line x1="437.2" y1="446.2" x2="437.2" y2="449.2" stroke="#111" stroke-width="1"/>
<text x="437.2" y="459.6" font-size="8.48" text-anchor="middle" fill="#1c1c1c" font-weight="normal" font-style="normal" textLength="4.45" lengthAdjust="spacingAndGlyphs" stroke="#1c1c1c" stroke-width="0.1">4</text>
<line x1="495.2" y1="446.2" x2="495.2" y2="449.2" stroke="#111" stroke-width="1"/>
<text x="495.2" y="459.6" font-size="8.48" text-anchor="middle" fill="#1c1c1c" font-weight="normal" font-style="normal" textLength="4.45" lengthAdjust="spacingAndGlyphs" stroke="#1c1c1c" stroke-width="0.1">6</text>
<text x="357" y="472.1" font-size="8.9" text-anchor="start" fill="#1c1c1c" font-weight="bold" font-style="normal" textLength="101.75" lengthAdjust="spacingAndGlyphs">Months from day 28 of second-line</text>
<text x="0" y="0" font-size="9.5" font-weight="bold" text-anchor="middle" fill="#1c1c1c" textLength="100" lengthAdjust="spacingAndGlyphs" transform="translate(279.3,369.6) rotate(-90)">Cumulative incidence of NRM (%)</text>
<text x="321.7" y="306.5" font-size="8.1" text-anchor="start" fill="#1c1c1c" font-weight="normal" font-style="normal" textLength="81.5" lengthAdjust="spacingAndGlyphs" stroke="#1c1c1c" stroke-width="0.1">6-month NRM (95% CI)</text>
<line x1="321.4" y1="309.2" x2="403.4" y2="309.2" stroke="#1e1e1e" stroke-width="1.1"/>
<line x1="321.09999999999997" y1="316.5" x2="336.9" y2="316.5" stroke="#ae2848" stroke-width="1.2"/>
<line x1="321.09999999999997" y1="328.5" x2="336.9" y2="328.5" stroke="#3a5f88" stroke-width="1.2"/>
<text x="340" y="319.79999999999995" font-size="8.1" text-anchor="start" fill="#1c1c1c" font-weight="normal" font-style="normal" textLength="63.5" lengthAdjust="spacingAndGlyphs" stroke="#1c1c1c" stroke-width="0.1">54.7% (45.7-62.8)</text>
<text x="340" y="331.5" font-size="8.1" text-anchor="start" fill="#1c1c1c" font-weight="normal" font-style="normal" textLength="59.2" lengthAdjust="spacingAndGlyphs" stroke="#1c1c1c" stroke-width="0.1">13.2% (6.1-23.0)</text>
<text x="486.4" y="298.9" font-size="8.0" text-anchor="middle" fill="#1c1c1c" font-weight="normal" font-style="normal" textLength="34.7" lengthAdjust="spacingAndGlyphs" stroke="#1c1c1c" stroke-width="0.1">Proportion</text>
<circle cx="486.4" cy="321.3" r="17.4" fill="#1b4e8e"/>
<path d="M486.4,321.3 L486.4,303.90000000000003 A17.4,17.4 0 1 1 470.72,328.85 Z" fill="#dc0a22"/>
<line x1="486.4" y1="321.3" x2="486.4" y2="303.90000000000003" stroke="#f4d8dc" stroke-width="0.7"/>
<line x1="486.4" y1="321.3" x2="470.72" y2="328.85" stroke="#f4d8dc" stroke-width="0.7"/>
<text x="328.6" y="386.3" font-size="8.5" fill="#1c1c1c" stroke="#1c1c1c" stroke-width="0.1" textLength="26.2" lengthAdjust="spacingAndGlyphs"><tspan font-style="italic">P</tspan> <tspan font-size="7.2">&lt;</tspan> .001</text>
<polyline points="321.70,438.90 321.88,438.90 321.88,437.30 322.43,437.30 322.43,435.70 322.80,435.70 322.96,435.70 322.96,433.60 323.21,433.60 323.21,431.50 323.30,431.50 324.35,431.50 324.35,429.90 325.40,429.90 325.90,429.90 325.90,428.55 327.00,428.55 327.00,427.20 327.60,427.20 328.46,427.20 328.46,425.27 329.70,425.27 329.70,423.33 330.45,423.33 330.45,421.40 330.80,421.40 331.80,421.40 331.80,419.63 333.51,419.63 333.51,417.87 335.15,417.87 335.15,416.10 336.10,416.10 339.80,416.10 339.80,415.50 343.50,415.50 344.20,415.50 344.20,413.90 345.81,413.90 345.81,412.30 347.26,412.30 347.26,410.70 347.80,410.70 349.15,410.70 349.15,408.60 351.80,408.60 351.80,406.50 353.10,406.50 353.37,406.50 353.37,404.73 353.89,404.73 353.89,402.97 354.68,402.97 354.68,401.20 355.20,401.20 356.80,401.20 356.80,400.60 358.40,400.60 359.01,400.60 359.01,399.00 360.11,399.00 360.11,397.40 360.60,397.40 361.27,397.40 361.27,395.85 362.32,395.85 362.32,394.30 362.70,394.30 365.35,394.30 365.35,393.20 368.00,393.20 368.80,393.20 368.80,392.20 369.60,392.20 371.95,392.20 371.95,389.80 374.30,389.80 375.05,389.80 375.05,388.30 375.80,388.30 385.10,388.30 387.45,388.30 387.45,386.00 389.80,386.00 390.46,386.00 390.46,384.45 392.01,384.45 392.01,382.90 392.90,382.90 395.20,382.90 395.20,380.50 397.50,380.50 398.25,380.50 398.25,378.20 399.00,378.20 400.73,378.20 400.73,376.65 403.83,376.65 403.83,375.10 405.20,375.10 406.00,375.10 406.00,372.80 406.80,372.80 409.10,372.80 409.10,370.50 411.40,370.50 414.50,370.50 414.50,368.60 417.60,368.60 422.50,368.60 422.50,368.30 427.40,368.30 428.20,368.30 428.20,367.20 429.00,367.20 435.15,367.20 435.15,366.30 441.30,366.30 441.75,366.30 441.75,365.50 442.20,365.50 469.30,365.50 470.50,365.50 470.50,364.40 471.70,364.40 483.20,364.40 484.45,364.40 484.45,362.20 485.70,362.20 488.15,362.20 488.15,361.40 490.60,361.40 491.85,361.40 491.85,360.10 493.10,360.10 494.30,360.10 494.30,359.40 495.50,359.40" fill="none" stroke="#ae2848" stroke-width="1.3" stroke-linejoin="round"/>
<polyline points="321.70,438.90 322.25,438.90 322.25,436.80 322.80,436.80 328.60,436.80 328.60,434.50 346.70,434.50 346.70,430.30 368.90,430.30 368.90,427.80 387.00,427.80 387.20,427.80 387.20,425.40 387.40,425.40 431.80,425.40 432.05,425.40 432.05,423.50 432.30,423.50 442.60,423.50 442.80,423.50 442.80,420.50 443.00,420.50 495.80,420.50" fill="none" stroke="#3a5f88" stroke-width="1.3" stroke-linejoin="round"/>
<text x="437.2" y="378.3" font-size="8.1" text-anchor="start" fill="#b62c4e" font-weight="normal" font-style="normal" textLength="73.6" lengthAdjust="spacingAndGlyphs" stroke-width="0">Refined Nonresponse</text>
<text x="451.1" y="433.0" font-size="8.1" text-anchor="start" fill="#33628f" font-weight="normal" font-style="normal" textLength="61.8" lengthAdjust="spacingAndGlyphs" stroke-width="0">Refined Response</text>
<text x="286.25" y="485" font-size="8.0" text-anchor="start" fill="#1c1c1c" font-weight="normal" font-style="normal" textLength="116.5" lengthAdjust="spacingAndGlyphs" stroke="#1c1c1c" stroke-width="0.1">Number at risk (number censored)</text>
<line x1="286.25" y1="493.5" x2="301.55" y2="493.5" stroke="#ae2848" stroke-width="1.2"/>
<line x1="286.25" y1="505.5" x2="301.55" y2="505.5" stroke="#3a5f88" stroke-width="1.2"/>
<text x="321.2" y="496.7" font-size="8.67" text-anchor="middle" fill="#1c1c1c" font-weight="normal" font-style="normal" textLength="25.66" lengthAdjust="spacingAndGlyphs" stroke="#1c1c1c" stroke-width="0.1">133 (0)</text>
<text x="321.2" y="508.4" font-size="8.67" text-anchor="middle" fill="#1c1c1c" font-weight="normal" font-style="normal" textLength="21.16" lengthAdjust="spacingAndGlyphs" stroke="#1c1c1c" stroke-width="0.1">63 (0)</text>
<text x="379.2" y="496.7" font-size="8.67" text-anchor="middle" fill="#1c1c1c" font-weight="normal" font-style="normal" textLength="21.16" lengthAdjust="spacingAndGlyphs" stroke="#1c1c1c" stroke-width="0.1">80 (6)</text>
<text x="379.2" y="508.4" font-size="8.67" text-anchor="middle" fill="#1c1c1c" font-weight="normal" font-style="normal" textLength="21.16" lengthAdjust="spacingAndGlyphs" stroke="#1c1c1c" stroke-width="0.1">53 (5)</text>
<text x="437.2" y="496.7" font-size="8.67" text-anchor="middle" fill="#1c1c1c" font-weight="normal" font-style="normal" textLength="21.16" lengthAdjust="spacingAndGlyphs" stroke="#1c1c1c" stroke-width="0.1">58 (9)</text>
<text x="437.2" y="508.4" font-size="8.67" text-anchor="middle" fill="#1c1c1c" font-weight="normal" font-style="normal" textLength="21.16" lengthAdjust="spacingAndGlyphs" stroke="#1c1c1c" stroke-width="0.1">48 (8)</text>
<text x="495.2" y="496.7" font-size="8.67" text-anchor="middle" fill="#1c1c1c" font-weight="normal" font-style="normal" textLength="25.66" lengthAdjust="spacingAndGlyphs" stroke="#1c1c1c" stroke-width="0.1">51 (10)</text>
<text x="495.2" y="508.4" font-size="8.67" text-anchor="middle" fill="#1c1c1c" font-weight="normal" font-style="normal" textLength="25.66" lengthAdjust="spacingAndGlyphs" stroke="#1c1c1c" stroke-width="0.1">41 (14)</text>
</g>
<rect x="0.5" y="0.5" width="519" height="516" fill="none" stroke="#6a6a6a" stroke-width="1.1"/>
</svg>
</body></html>
